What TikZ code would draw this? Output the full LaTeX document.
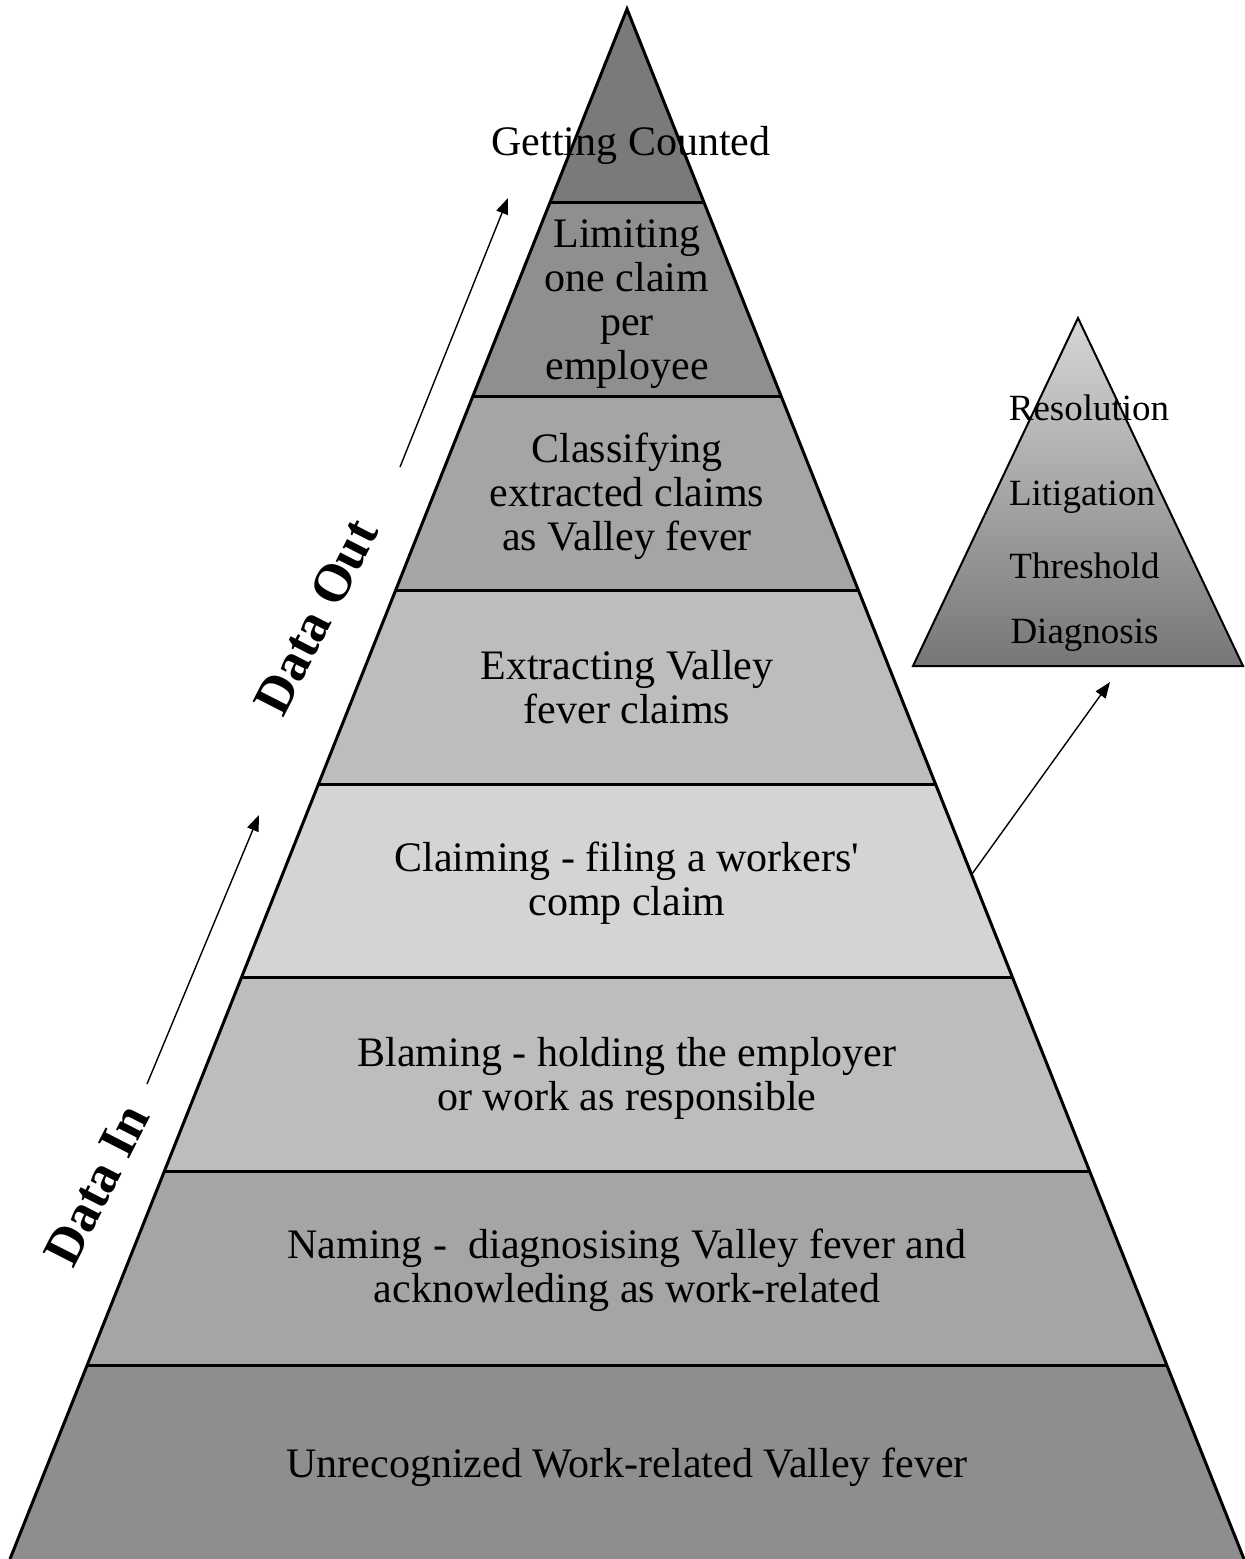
\documentclass[tikz,border=0pt]{standalone}
\usepackage{fontspec}
\setmainfont{Liberation Serif}[Ligatures=TeXOff]
\usetikzlibrary{calc,arrows.meta}
\definecolor{bandA}{HTML}{7A7A7A}
\definecolor{bandB}{HTML}{8F8F8F}
\definecolor{bandC}{HTML}{A5A5A5}
\definecolor{bandD}{HTML}{BDBDBD}
\definecolor{bandE}{HTML}{D4D4D4}
\definecolor{bandF}{HTML}{BDBDBD}
\definecolor{bandG}{HTML}{A5A5A5}
\definecolor{bandH}{HTML}{8E8E8E}
\definecolor{smallTop}{HTML}{D6D6D6}
\definecolor{smallBot}{HTML}{767676}
\begin{document}
\begin{tikzpicture}[x=0.5pt,y=-0.5pt,
  lbl/.style={font=\fontsize{21}{22}\selectfont, align=center, inner sep=0pt, text=black},
  lblbase/.style={font=\fontsize{21}{22}\selectfont, inner sep=0pt, anchor=base, text=black},
  smalltxt/.style={font=\fontsize{18.5}{20}\selectfont, inner sep=0pt, anchor=base, text=black},
  sidetxt/.style={font=\fontsize{26.5}{28}\selectfont\bfseries, rotate=63, inner sep=0pt},
  arr/.style={line width=0.7pt, -{Triangle[length=8pt,width=6pt]}},
  edge/.style={line width=1.5pt, line join=miter}
]
\useasboundingbox (0,0) rectangle (1244,1559);
\coordinate (A) at (627,9);
\coordinate (BL) at (10,1559);
\coordinate (BR) at (1244,1559);
% bands
\foreach \i/\c in {1/bandA,2/bandB,3/bandC,4/bandD,5/bandE,6/bandF,7/bandG,8/bandH} {
  \fill[fill=\c] ($(A)!{(\i-1)/8}!(BL)$) -- ($(A)!{\i/8}!(BL)$) -- ($(A)!{\i/8}!(BR)$) -- ($(A)!{(\i-1)/8}!(BR)$) -- cycle;
}
\foreach \i in {1,...,7} {
  \draw[edge] ($(A)!{\i/8}!(BL)$) -- ($(A)!{\i/8}!(BR)$);
}
\draw[edge] (BL) -- (A) -- (BR);
% small pyramid
\coordinate (sA) at (1078,318);
\coordinate (sL) at (913,666);
\coordinate (sR) at (1243,666);
\shade[top color=smallTop, bottom color=smallBot] (sA) -- (sR) -- (sL) -- cycle;
\draw[line width=1pt, line join=miter] (sA) -- (sR) -- (sL) -- cycle;
% texts
\node[lblbase] (counted) at (631,155) {Getting Counted};
\node[lbl] (limiting) at (627,304.8) {\strut Limiting\strut\\\strut one claim\strut\\\strut per\strut\\\strut employee\strut};
\node[lbl] (classifying) at (627,497.5) {\strut Classifying\strut\\\strut extracted claims\strut\\\strut as Valley fever\strut};
\node[lbl] (extracting) at (627,693) {\strut Extracting Valley\strut\\\strut fever claims\strut};
\node[lbl] (claiming) at (627,884.5) {\strut Claiming - filing a workers'\strut\\\strut comp claim\strut};
\node[lbl] (blaming) at (627,1079.7) {\strut Blaming - holding the employer\strut\\\strut or work as responsible\strut};
\node[lbl] (naming) at (627,1271.7) {\strut Naming -\ \ diagnosising Valley fever and\strut\\\strut acknowleding as work-related\strut};
\node[lblbase] (unrecognized) at (627,1477) {Unrecognized Work-related Valley fever};
\node[smalltxt] (resolution) at (1089,420) {Resolution};
\node[smalltxt] (litigation) at (1082,505) {Litigation};
\node[smalltxt] (threshold) at (1084.5,578) {Threshold};
\node[smalltxt] (diagnosis) at (1084.5,643) {Diagnosis};
\node[sidetxt] (dataout) at (316,617) {Data Out};
\node[sidetxt] (datain) at (97,1185) {Data In};
% arrows
\coordinate (outTail) at (400,467);
\coordinate (outHead) at (508,198);
\coordinate (inTail) at (147,1084);
\coordinate (inHead) at (259,815);
\coordinate (rTail) at (972,874);
\coordinate (rHead) at (1110,682);
\draw[arr] (outTail) -- (outHead);
\draw[arr] (inTail) -- (inHead);
\draw[arr] (rTail) -- (rHead);
\end{tikzpicture}
\end{document}
